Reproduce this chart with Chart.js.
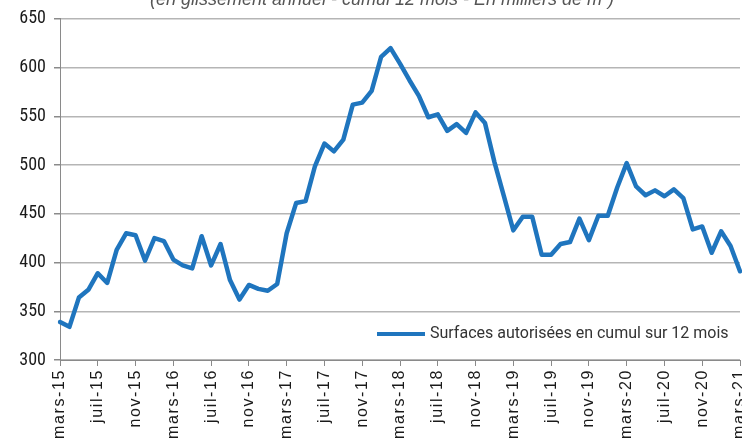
<!DOCTYPE html>
<html>
<head>
<meta charset="utf-8">
<script src="https://cdn.jsdelivr.net/npm/chart.js@4/dist/chart.umd.min.js"></script>
<style>
    html, body { margin: 0; padding: 0; background: #fff; }
    #box { width: 742px; height: 440px; }
</style>
</head>
<body>
<div id="box"><canvas id="myChart"></canvas></div>
<script>
// axis labels
let monthNames = ['janv', 'févr', 'mars', 'avr', 'mai', 'juin', 'juil', 'août', 'sept', 'oct', 'nov', 'déc'];
let firstMonth = 2;   // mars
let firstYear = 15;
let tickEvery = 4;

// surfaces autorisées, cumul 12 mois (milliers de m²), mars-15 .. mars-21
let surfaces = [
    339, 334, 364, 372, 389, 379, 413, 430, 428, 402, 425, 422,
    403, 397, 394, 427, 397, 419, 382, 362, 377, 373, 371, 378,
    430, 461, 463, 499, 522, 514, 526, 562, 564, 576, 611, 620,
    604, 587, 571, 549, 552, 535, 542, 533, 554, 543, 503, 468,
    433, 447, 447, 408, 408, 419, 421, 445, 423, 448, 448, 477,
    502, 478, 469, 474, 468, 475, 466, 434, 437, 410, 432, 417,
    391
];
let seriesName = 'Surfaces autorisées en cumul sur 12 mois';
let subtitle = '(en glissement annuel - cumul 12 mois - En milliers de m²)';

let colors = {
    'blue': '#1f75be'
    , 'grid': '#b5b5b5'
    , 'axis': '#8a8a8a'
    , 'text': '#1a1a1a'
    , 'subtitle': '#555'
}

let labels = [];
for (let i = 0; i < surfaces.length; i++) {
    let m = (firstMonth + i) % 12;
    let y = firstYear + Math.floor((firstMonth + i) / 12);
    labels.push(monthNames[m] + '-' + y);
}

// subtitle (cut at top) and legend drawn inside the plot
const extras = {
    id: 'extras',
    afterLayout: (chart) => {
        let xs = chart.scales.x;
        if (xs._spaced) return;
        let orig = xs.drawLabels.bind(xs);
        xs.drawLabels = (area) => {
            chart.ctx.save();
            chart.ctx.letterSpacing = '1.6px';
            orig(area);
            chart.ctx.restore();
        };
        xs._spaced = true;
    },
    afterDraw: (chart) => {
        let ctx = chart.ctx;
        ctx.save();
        ctx.font = 'italic 18px "Liberation Sans", Arial, sans-serif';
        ctx.fillStyle = colors['subtitle'];
        ctx.textAlign = 'center';
        ctx.textBaseline = 'alphabetic';
        ctx.fillText(subtitle, 382, 5);

        let ds = chart.data.datasets[0];
        let ly = 334;
        ctx.fillStyle = '#fff';
        ctx.fillRect(372, 316, 366, 38);
        ctx.strokeStyle = ds.borderColor;
        ctx.lineWidth = 4;
        ctx.beginPath();
        ctx.moveTo(377, ly);
        ctx.lineTo(425, ly);
        ctx.stroke();
        ctx.font = '16px Roboto, "Liberation Sans", sans-serif';
        ctx.fillStyle = '#333';
        ctx.textAlign = 'left';
        ctx.textBaseline = 'middle';
        ctx.fillText(ds.label, 430, ly);
        ctx.restore();
    }
};

let ctx = document.getElementById('myChart').getContext('2d');
let myChart = new Chart(ctx, {
    type: 'line',
    data: {
        labels: labels,
        datasets: [{
            label: seriesName,
            data: surfaces,
            borderColor: colors['blue'],
            backgroundColor: colors['blue'],
            borderWidth: 4.5,
            pointRadius: 0,
            tension: 0,
            borderJoinStyle: 'round',
            borderCapStyle: 'round',
        }]
    },
    options: {
        responsive: true,
        maintainAspectRatio: false,
        animation: false,
        layout: { padding: { top: 18, right: 2, left: 0, bottom: 0 } },
        plugins: {
            legend: { display: false },
            tooltip: { enabled: false },
        },
        scales: {
            x: {
                offset: false,
                afterFit: (scale) => {
                    scale.height = 80;
                    scale.paddingLeft = 0;
                    scale.paddingRight = 0;
                },
                grid: {
                    drawOnChartArea: false,
                    drawTicks: true,
                    tickLength: 6,
                    color: (c) => c.index % tickEvery === 0 ? colors['axis'] : 'rgba(0,0,0,0)',
                },
                border: { color: colors['axis'], width: 1 },
                ticks: {
                    autoSkip: false,
                    maxRotation: 90,
                    minRotation: 90,
                    padding: 3,
                    color: colors['text'],
                    font: { family: '"Liberation Sans", Arial, sans-serif', size: 16 },
                    callback: function (val, index) {
                        return index % tickEvery === 0 ? this.getLabelForValue(val) : '';
                    },
                },
            },
            y: {
                min: 300,
                max: 650,
                afterFit: (scale) => { scale.width = 60; },
                grid: {
                    color: colors['grid'],
                    lineWidth: 1.5,
                    drawTicks: true,
                    tickLength: 6,
                    tickColor: colors['axis'],
                },
                border: { color: colors['axis'], width: 1 },
                ticks: {
                    stepSize: 50,
                    padding: 8,
                    color: colors['text'],
                    font: { family: '"Liberation Sans Narrow", "Roboto Condensed", "Liberation Sans", sans-serif', size: 18 },
                },
            },
        },
    },
    plugins: [extras],
});
</script>
</body>
</html>
